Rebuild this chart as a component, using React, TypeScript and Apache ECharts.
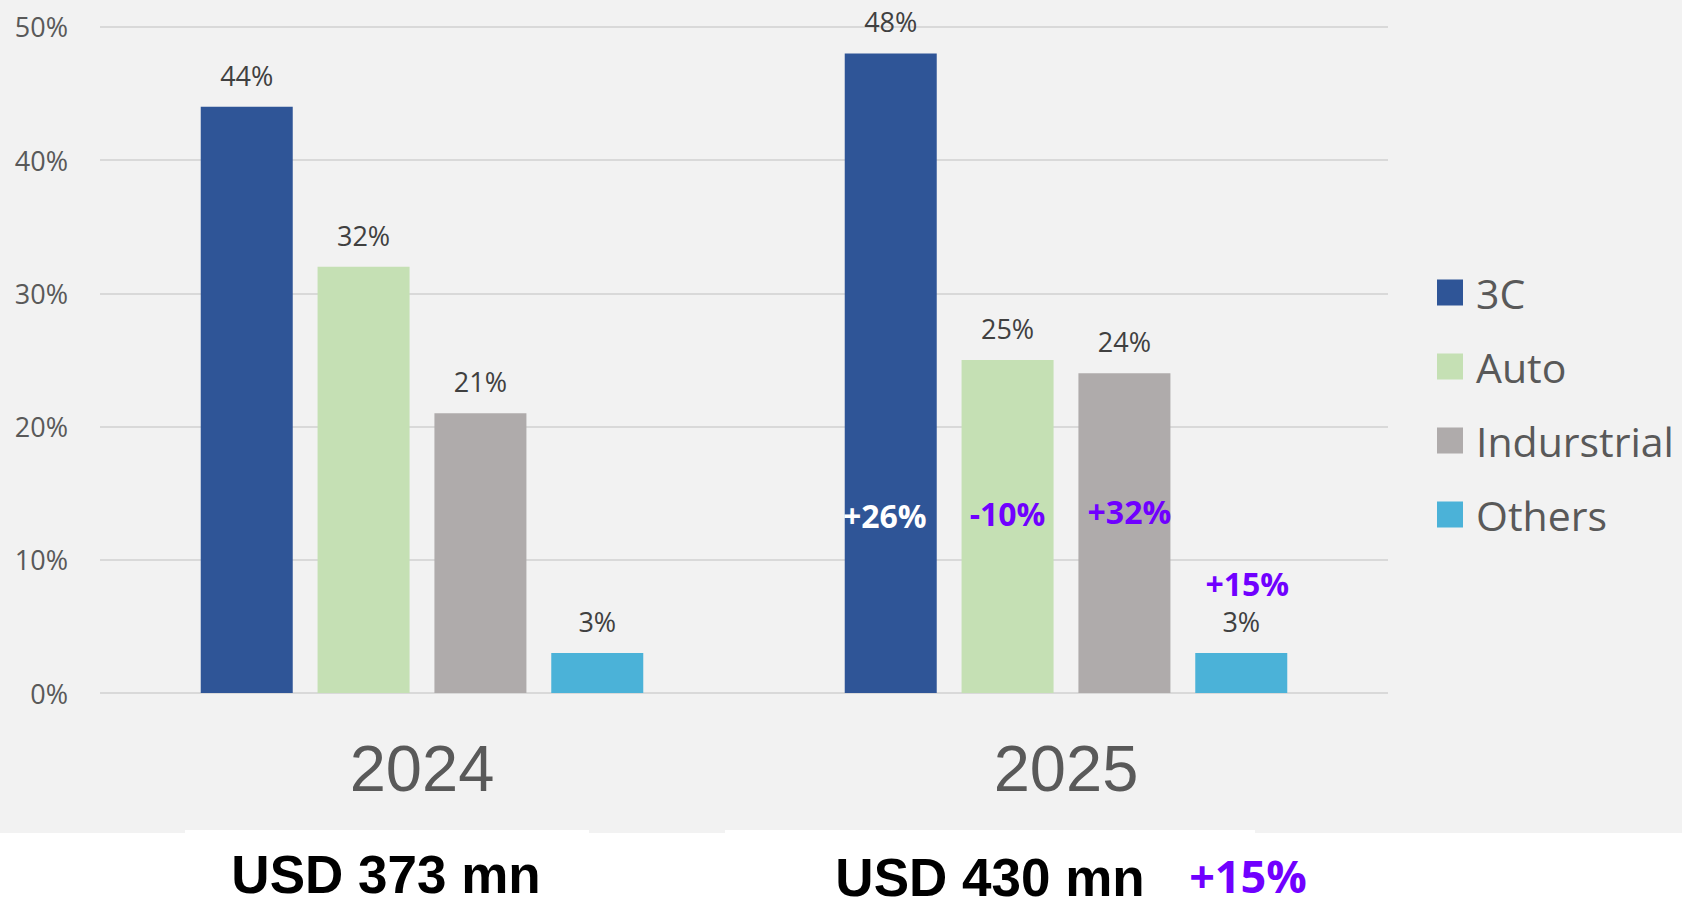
import React, { useEffect, useRef } from "react";
import * as echarts from "echarts";

const categories = ["2024", "2025"];
const seriesNames = ["3C", "Auto", "Indurstrial", "Others"];
const values3C = [44, 48];
const valuesAuto = [32, 25];
const valuesIndustrial = [21, 24];
const valuesOthers = [3, 3];
const growth2025 = ["+26%", "-10%", "+32%", "+15%"];
const totals = ["USD 373 mn", "USD 430 mn"];
const totalGrowth = "+15%";
const yTicks = [0, 10, 20, 30, 40, 50];

const colors = ["#2F5597", "#C5E0B4", "#AFABAB", "#4BB2D8"];
const growthColors = ["#FFFFFF", "#7000FF", "#7000FF", "#7000FF"];
const growthLabelY = [13.3, 13.5, 13.65, 8.25];
const growthLabelDx = [-6, 0, 5, 6];
const PURPLE = "#7000FF";

export default function App() {
  const ref = useRef<HTMLDivElement>(null);
  useEffect(() => {
    document.body.style.margin = "0";
    const chart = echarts.init(ref.current!, undefined, { renderer: "svg" });
    const allValues = [values3C, valuesAuto, valuesIndustrial, valuesOthers];
    const series = seriesNames.map((name, i) => ({
      name,
      type: "bar",
      data: allValues[i],
      barWidth: 92,
      barGap: "27%",
      itemStyle: { color: colors[i] },
      label: {
        show: true,
        position: "top",
        distance: 18,
        formatter: "{c}%",
        fontFamily: "Open Sans",
        fontSize: 27,
        color: "#404040",
      },
      markPoint: {
        symbol: "circle",
        symbolSize: 1,
        itemStyle: { color: "rgba(0,0,0,0)" },
        data: [
          {
            coord: [categories[1], growthLabelY[i]],
            value: growth2025[i],
            label: {
              show: true,
              position: "inside",
              offset: [growthLabelDx[i], 0],
              formatter: growth2025[i],
              fontFamily: "Open Sans",
              fontWeight: "bold",
              fontSize: 32,
              color: growthColors[i],
            },
          },
        ],
      },
    }));
    chart.setOption({
      animation: false,
      backgroundColor: "#FFFFFF",
      grid: { left: 100, right: 294, top: 26.8, bottom: 212 },
      xAxis: {
        type: "category",
        data: categories,
        axisLine: { show: false },
        axisTick: { show: false },
        axisLabel: {
          margin: 43,
          fontFamily: "Liberation Sans",
          fontSize: 65,
          color: "#595959",
        },
      },
      yAxis: {
        type: "value",
        min: yTicks[0],
        max: yTicks[yTicks.length - 1],
        interval: 10,
        axisLine: { show: false },
        axisTick: { show: false },
        axisLabel: {
          margin: 32,
          formatter: "{value}%",
          fontFamily: "Open Sans",
          fontSize: 27,
          color: "#595959",
        },
        splitLine: { lineStyle: { color: "#D9D9D9", width: 2 } },
      },
      legend: {
        orient: "vertical",
        left: 1432,
        top: 267,
        itemWidth: 26,
        itemHeight: 26,
        itemGap: 33,
        icon: "rect",
        data: seriesNames,
        textStyle: {
          fontFamily: "Open Sans",
          fontSize: 41,
          lineHeight: 41,
          color: "#595959",
          padding: [0, 0, 0, 8],
        },
      },
      graphic: [
        {
          type: "rect",
          z: -10,
          silent: true,
          shape: { x: 0, y: 0, width: 1682, height: 833 },
          style: { fill: "#F2F2F2" },
        },
        {
          type: "rect",
          z: -9,
          silent: true,
          shape: { x: 185, y: 830, width: 404, height: 10 },
          style: { fill: "#FFFFFF" },
        },
        {
          type: "rect",
          z: -9,
          silent: true,
          shape: { x: 725, y: 830, width: 530, height: 10 },
          style: { fill: "#FFFFFF" },
        },
        {
          type: "text",
          x: 386,
          y: 874,
          style: {
            text: totals[0],
            fontFamily: "Liberation Sans",
            fontWeight: "bold",
            fontSize: 53,
            fill: "#000000",
            textAlign: "center",
            textVerticalAlign: "middle",
          },
        },
        {
          type: "text",
          x: 990,
          y: 877,
          style: {
            text: totals[1],
            fontFamily: "Liberation Sans",
            fontWeight: "bold",
            fontSize: 53,
            fill: "#000000",
            textAlign: "center",
            textVerticalAlign: "middle",
          },
        },
        {
          type: "text",
          x: 1248,
          y: 875,
          style: {
            text: totalGrowth,
            fontFamily: "Open Sans",
            fontWeight: "bold",
            fontSize: 45,
            lineHeight: 45,
            fill: PURPLE,
            textAlign: "center",
            textVerticalAlign: "middle",
          },
        },
      ],
      series,
    });
    return () => chart.dispose();
  }, []);
  return <div ref={ref} style={{ width: 1682, height: 905 }} />;
}
